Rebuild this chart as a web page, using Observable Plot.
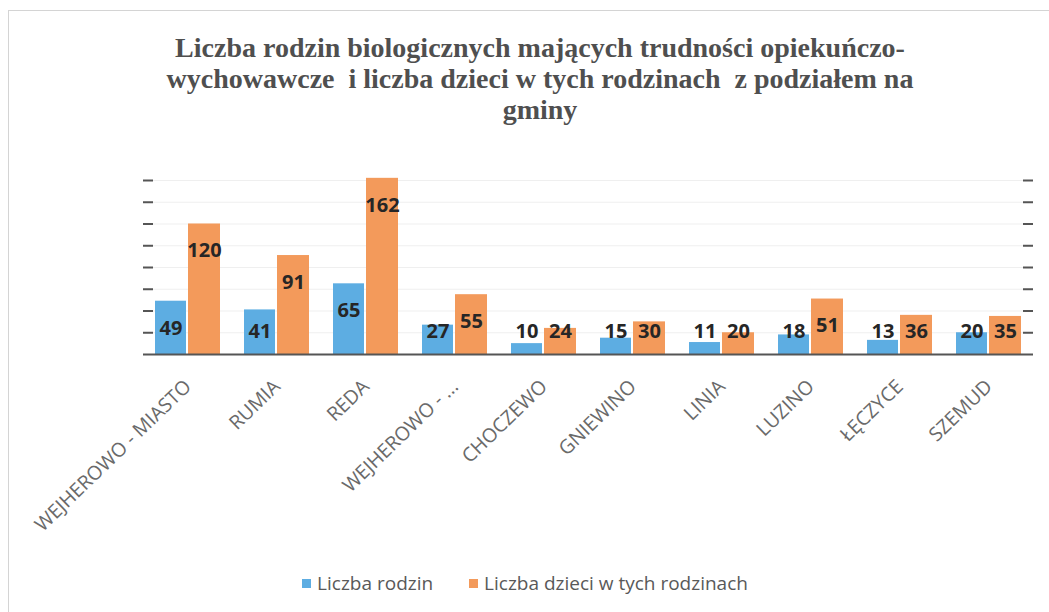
<!DOCTYPE html>
<html>
<head>
<meta charset="utf-8">
<script src="https://cdn.jsdelivr.net/npm/d3@7"></script>
<script src="https://cdn.jsdelivr.net/npm/@observablehq/plot@0.6"></script>
<style>
  html, body { margin: 0; padding: 0; background: #ffffff; }
  body { width: 1049px; height: 612px; position: relative; overflow: hidden; }
  #frame { position: absolute; left: 8px; top: 10px; width: 1070px; height: 640px; border: 1px solid #d4d4d4; box-sizing: border-box; }
  #title { position: absolute; left: 0; top: 32px; width: 1080px; text-align: center;
    font-family: "Liberation Serif", "Times New Roman", serif; font-weight: bold; font-size: 28px;
    line-height: 31px; color: #4f4f4f; white-space: pre; }
  #chart { position: absolute; left: 0; top: 140px; }
  #legend { position: absolute; left: 0; top: 570px; width: 1050px; display: flex; justify-content: center; gap: 36px;
    font-family: "Open Sans", sans-serif; font-size: 19px; color: #595959; }
  .item { display: flex; align-items: center; }
  .sw { width: 9px; height: 9px; margin-right: 6px; }
</style>
</head>
<body>
<div id="frame"></div>
<div id="title"></div>
<div id="chart"></div>
<div id="legend"></div>
<script>
const titleLines = [
  "Liczba rodzin biologicznych mających trudności opiekuńczo-",
  "wychowawcze  i liczba dzieci w tych rodzinach  z podziałem na",
  "gminy"
];
const gminy = ["WEJHEROWO - MIASTO", "RUMIA", "REDA", "WEJHEROWO - ...", "CHOCZEWO", "GNIEWINO", "LINIA", "LUZINO", "ŁĘCZYCE", "SZEMUD"];
const rodziny = [49, 41, 65, 27, 10, 15, 11, 18, 13, 20];
const dzieci = [120, 91, 162, 55, 24, 30, 20, 51, 36, 35];
const seriesNames = ["Liczba rodzin", "Liczba dzieci w tych rodzinach"];
const seriesColors = ["#5dade2", "#f39a5b"];
const yTicks = [20, 40, 60, 80, 100, 120, 140, 160];

document.getElementById("title").textContent = titleLines.join("\n");

const dataR = gminy.map((g, i) => ({g, v: rodziny[i]}));
const dataD = gminy.map((g, i) => ({g, v: dzieci[i]}));

const chart = Plot.plot({
  width: 1049,
  height: 410,
  marginLeft: 143,
  marginRight: 16,
  marginTop: 40,
  marginBottom: 196,
  style: {fontFamily: "Open Sans, sans-serif", color: "#5f5f5f", background: "transparent"},
  x: {domain: gminy, paddingInner: 0.27, paddingOuter: 0.135, axis: null},
  y: {domain: [0, 160], axis: null},
  marks: [
    Plot.ruleY(yTicks, {y: d => d, stroke: "#efefef", strokeWidth: 1}),
    Plot.tickY(yTicks, {y: d => d, insetRight: 880, stroke: "#555", strokeWidth: 2}),
    Plot.tickY(yTicks, {y: d => d, insetLeft: 880, stroke: "#555", strokeWidth: 2}),
    Plot.barY(dataR, {x: "g", y: "v", fill: seriesColors[0], insetRight: 34}),
    Plot.barY(dataD, {x: "g", y: "v", fill: seriesColors[1], insetLeft: 33}),
    Plot.ruleY([0], {stroke: "#555", strokeWidth: 2}),
    Plot.text(dataR, {x: "g", y: d => Math.max(d.v, 46), text: d => String(d.v), dx: -17, dy: 27,
      fontSize: 20, fontWeight: "bold", fill: "#262626"}),
    Plot.text(dataD, {x: "g", y: d => Math.max(d.v, 46), text: d => String(d.v), dx: 16.5, dy: 27,
      fontSize: 20, fontWeight: "bold", fill: "#262626"}),
    Plot.axisX({tickRotate: -44, tickSize: 0, tickPadding: 29, fontSize: 19.5, fill: "#6a6a6a", label: null})
  ]
});
document.getElementById("chart").appendChild(chart);

const legend = document.getElementById("legend");
seriesNames.forEach((name, i) => {
  const item = document.createElement("div");
  item.className = "item";
  const sw = document.createElement("span");
  sw.className = "sw";
  sw.style.background = seriesColors[i];
  const t = document.createElement("span");
  t.textContent = name;
  item.appendChild(sw);
  item.appendChild(t);
  legend.appendChild(item);
});
</script>
</body>
</html>
